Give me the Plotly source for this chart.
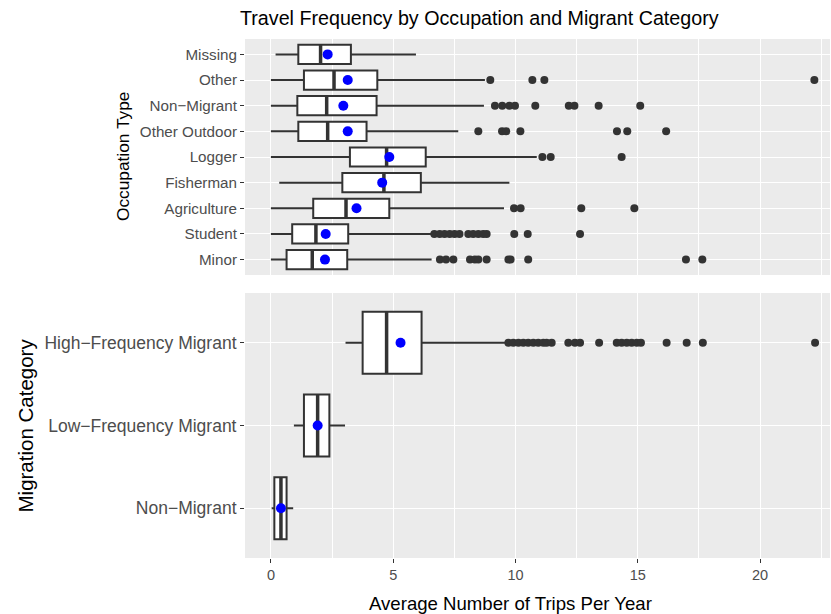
import plotly.graph_objects as go
from plotly.subplots import make_subplots

# ---------------- data ----------------
occupations = ["Missing", "Other", "Non\u2212Migrant", "Other Outdoor", "Logger",
               "Fisherman", "Agriculture", "Student", "Minor"]
occ_lo = [0.19, 0.0, 0.0, 0.0, 0.0, 0.34, 0.0, 0.0, 0.0]
occ_q1 = [1.12, 1.35, 1.08, 1.12, 3.23, 2.92, 1.73, 0.87, 0.64]
occ_med = [2.03, 2.58, 2.28, 2.32, 4.73, 4.62, 3.07, 1.84, 1.69]
occ_q3 = [3.27, 4.35, 4.32, 3.91, 6.33, 6.13, 4.84, 3.16, 3.12]
occ_hi = [5.93, 8.75, 8.71, 7.66, 10.87, 9.75, 9.53, 6.57, 6.57]
occ_mean = [2.32, 3.14, 2.96, 3.14, 4.84, 4.55, 3.50, 2.24, 2.21]
occ_out = [
    [],
    [8.97, 10.69, 11.18, 22.22],
    [9.16, 9.46, 9.75, 9.98, 10.81, 12.18, 12.41, 13.40, 15.10],
    [8.48, 9.45, 9.62, 10.20, 14.15, 14.57, 16.16],
    [11.10, 11.44, 14.34],
    [],
    [9.94, 10.21, 12.69, 14.86],
    [6.68, 6.90, 7.10, 7.31, 7.51, 7.71, 8.07, 8.27, 8.48, 8.68, 8.82, 9.95, 10.50, 12.64],
    [6.91, 7.16, 7.46, 8.14, 8.34, 8.48, 8.82, 9.71, 9.80, 10.52, 16.97, 17.64],
]

migrants = ["High\u2212Frequency Migrant", "Low\u2212Frequency Migrant", "Non\u2212Migrant"]
mig_lo = [3.05, 0.94, 0.03]
mig_q1 = [3.75, 1.35, 0.14]
mig_med = [4.73, 1.91, 0.41]
mig_q3 = [6.16, 2.39, 0.64]
mig_hi = [9.62, 3.03, 0.91]
mig_mean = [5.30, 1.91, 0.41]
mig_out = [
    [9.71, 9.91, 10.12, 10.32, 10.52, 10.73, 10.93, 11.14, 11.27, 11.48,
     12.16, 12.43, 12.64, 13.42, 14.14, 14.34, 14.55, 14.75, 14.96, 15.13,
     16.18, 17.00, 17.66, 22.25],
    [],
    [],
]

x_ticks = [0, 5, 10, 15, 20]

# ---------------- figure ----------------
FONT = "Liberation Sans, Arial, sans-serif"
DARK = "#333333"
TICKC = "#4D4D4D"
BOXW = 0.75

fig = make_subplots(rows=2, cols=1, shared_xaxes=False, vertical_spacing=0.0)


def add_panel(row, labels, lo, q1, med, q3, hi, mean, outs):
    n = len(labels)
    pos = [n - i for i in range(n)]  # first label at top
    fig.add_trace(go.Box(
        y=pos, q1=q1, median=med, q3=q3, lowerfence=lo, upperfence=hi,
        orientation="h", width=BOXW, whiskerwidth=0,
        fillcolor="white", line=dict(color=DARK, width=2),
        boxpoints=False, hoverinfo="skip", showlegend=False,
    ), row=row, col=1)
    # thicker median lines (ggplot fatten)
    mx, my = [], []
    for p, m in zip(pos, med):
        mx += [m, m, None]
        my += [p - BOXW / 2, p + BOXW / 2, None]
    fig.add_trace(go.Scatter(x=mx, y=my, mode="lines",
                             line=dict(color=DARK, width=3.5),
                             hoverinfo="skip", showlegend=False), row=row, col=1)
    # outliers
    ox, oy = [], []
    for p, o in zip(pos, outs):
        ox += o
        oy += [p] * len(o)
    fig.add_trace(go.Scatter(x=ox, y=oy, mode="markers",
                             marker=dict(color=DARK, size=8),
                             hoverinfo="skip", showlegend=False), row=row, col=1)
    # means
    fig.add_trace(go.Scatter(x=mean, y=pos, mode="markers",
                             marker=dict(color="#0000FF", size=10),
                             hoverinfo="skip", showlegend=False), row=row, col=1)
    return pos


pos_top = add_panel(1, occupations, occ_lo, occ_q1, occ_med, occ_q3, occ_hi, occ_mean, occ_out)
pos_bot = add_panel(2, migrants, mig_lo, mig_q1, mig_med, mig_q3, mig_hi, mig_mean, mig_out)

W, H = 831, 614
L, R, T, B = 245, 1, 39, 56
ph = H - T - B
pw = W - L - R
top_dom = [1 - (275 - T) / ph, 1]
bot_dom = [0, 1 - (293 - T) / ph]

xcommon = dict(
    range=[-1.06, 22.86], tickvals=x_ticks, ticktext=[str(v) for v in x_ticks],
    showgrid=True, gridcolor="white", gridwidth=1.2, zeroline=False,
    minor=dict(tick0=2.5, dtick=5, showgrid=True, gridcolor="white", gridwidth=0.6, ticks=""),
    showline=False,
)
fig.update_xaxes(**xcommon)
fig.update_xaxes(showticklabels=False, ticks="", row=1, col=1)
fig.update_xaxes(ticks="outside", ticklen=4, tickcolor=DARK, tickwidth=1.2,
                 tickfont=dict(family=FONT, size=14.5, color=TICKC),
                 row=2, col=1)

ycommon = dict(showgrid=True, gridcolor="white", gridwidth=1.2, zeroline=False,
               ticks="outside", ticklen=4, tickcolor=DARK, tickwidth=1.2,
               showline=False)
fig.update_yaxes(**ycommon)
fig.update_yaxes(domain=top_dom, range=[0.4, len(occupations) + 0.6],
                 tickvals=pos_top, ticktext=occupations,
                 tickfont=dict(family=FONT, size=15.2, color=TICKC), row=1, col=1)
fig.update_yaxes(domain=bot_dom, range=[0.4, len(migrants) + 0.6],
                 tickvals=pos_bot, ticktext=migrants,
                 tickfont=dict(family=FONT, size=17.5, color=TICKC), row=2, col=1)

fig.update_layout(
    width=W, height=H,
    margin=dict(l=L, r=R, t=T, b=B, autoexpand=False),
    paper_bgcolor="white", plot_bgcolor="#EBEBEB",
    showlegend=False,
    title=dict(text="Travel Frequency by Occupation and Migrant Category",
               x=240 / W, xanchor="left", xref="container",
               y=1 - 18 / H, yanchor="middle", yref="container",
               font=dict(family=FONT, size=19.7, color="black")),
    annotations=[
        dict(text="Occupation Type", textangle=-90, xref="paper", yref="y domain",
             x=(123 - L) / pw, y=0.5, xanchor="center", yanchor="middle",
             showarrow=False, font=dict(family=FONT, size=17.3, color="black")),
        dict(text="Migration Category", textangle=-90, xref="paper", yref="y2 domain",
             x=(25 - L) / pw, y=0.5, xanchor="center", yanchor="middle",
             showarrow=False, font=dict(family=FONT, size=20.5, color="black")),
        dict(text="Average Number of Trips Per Year", xref="paper", yref="paper",
             x=(510 - L) / pw, y=(H - B - 603) / ph, xanchor="center", yanchor="middle",
             showarrow=False, font=dict(family=FONT, size=18.6, color="black")),
    ],
)

fig.write_html("out.html", config={"displayModeBar": False},
               post_script="document.body.style.margin='0px';document.body.style.overflow='hidden';")
